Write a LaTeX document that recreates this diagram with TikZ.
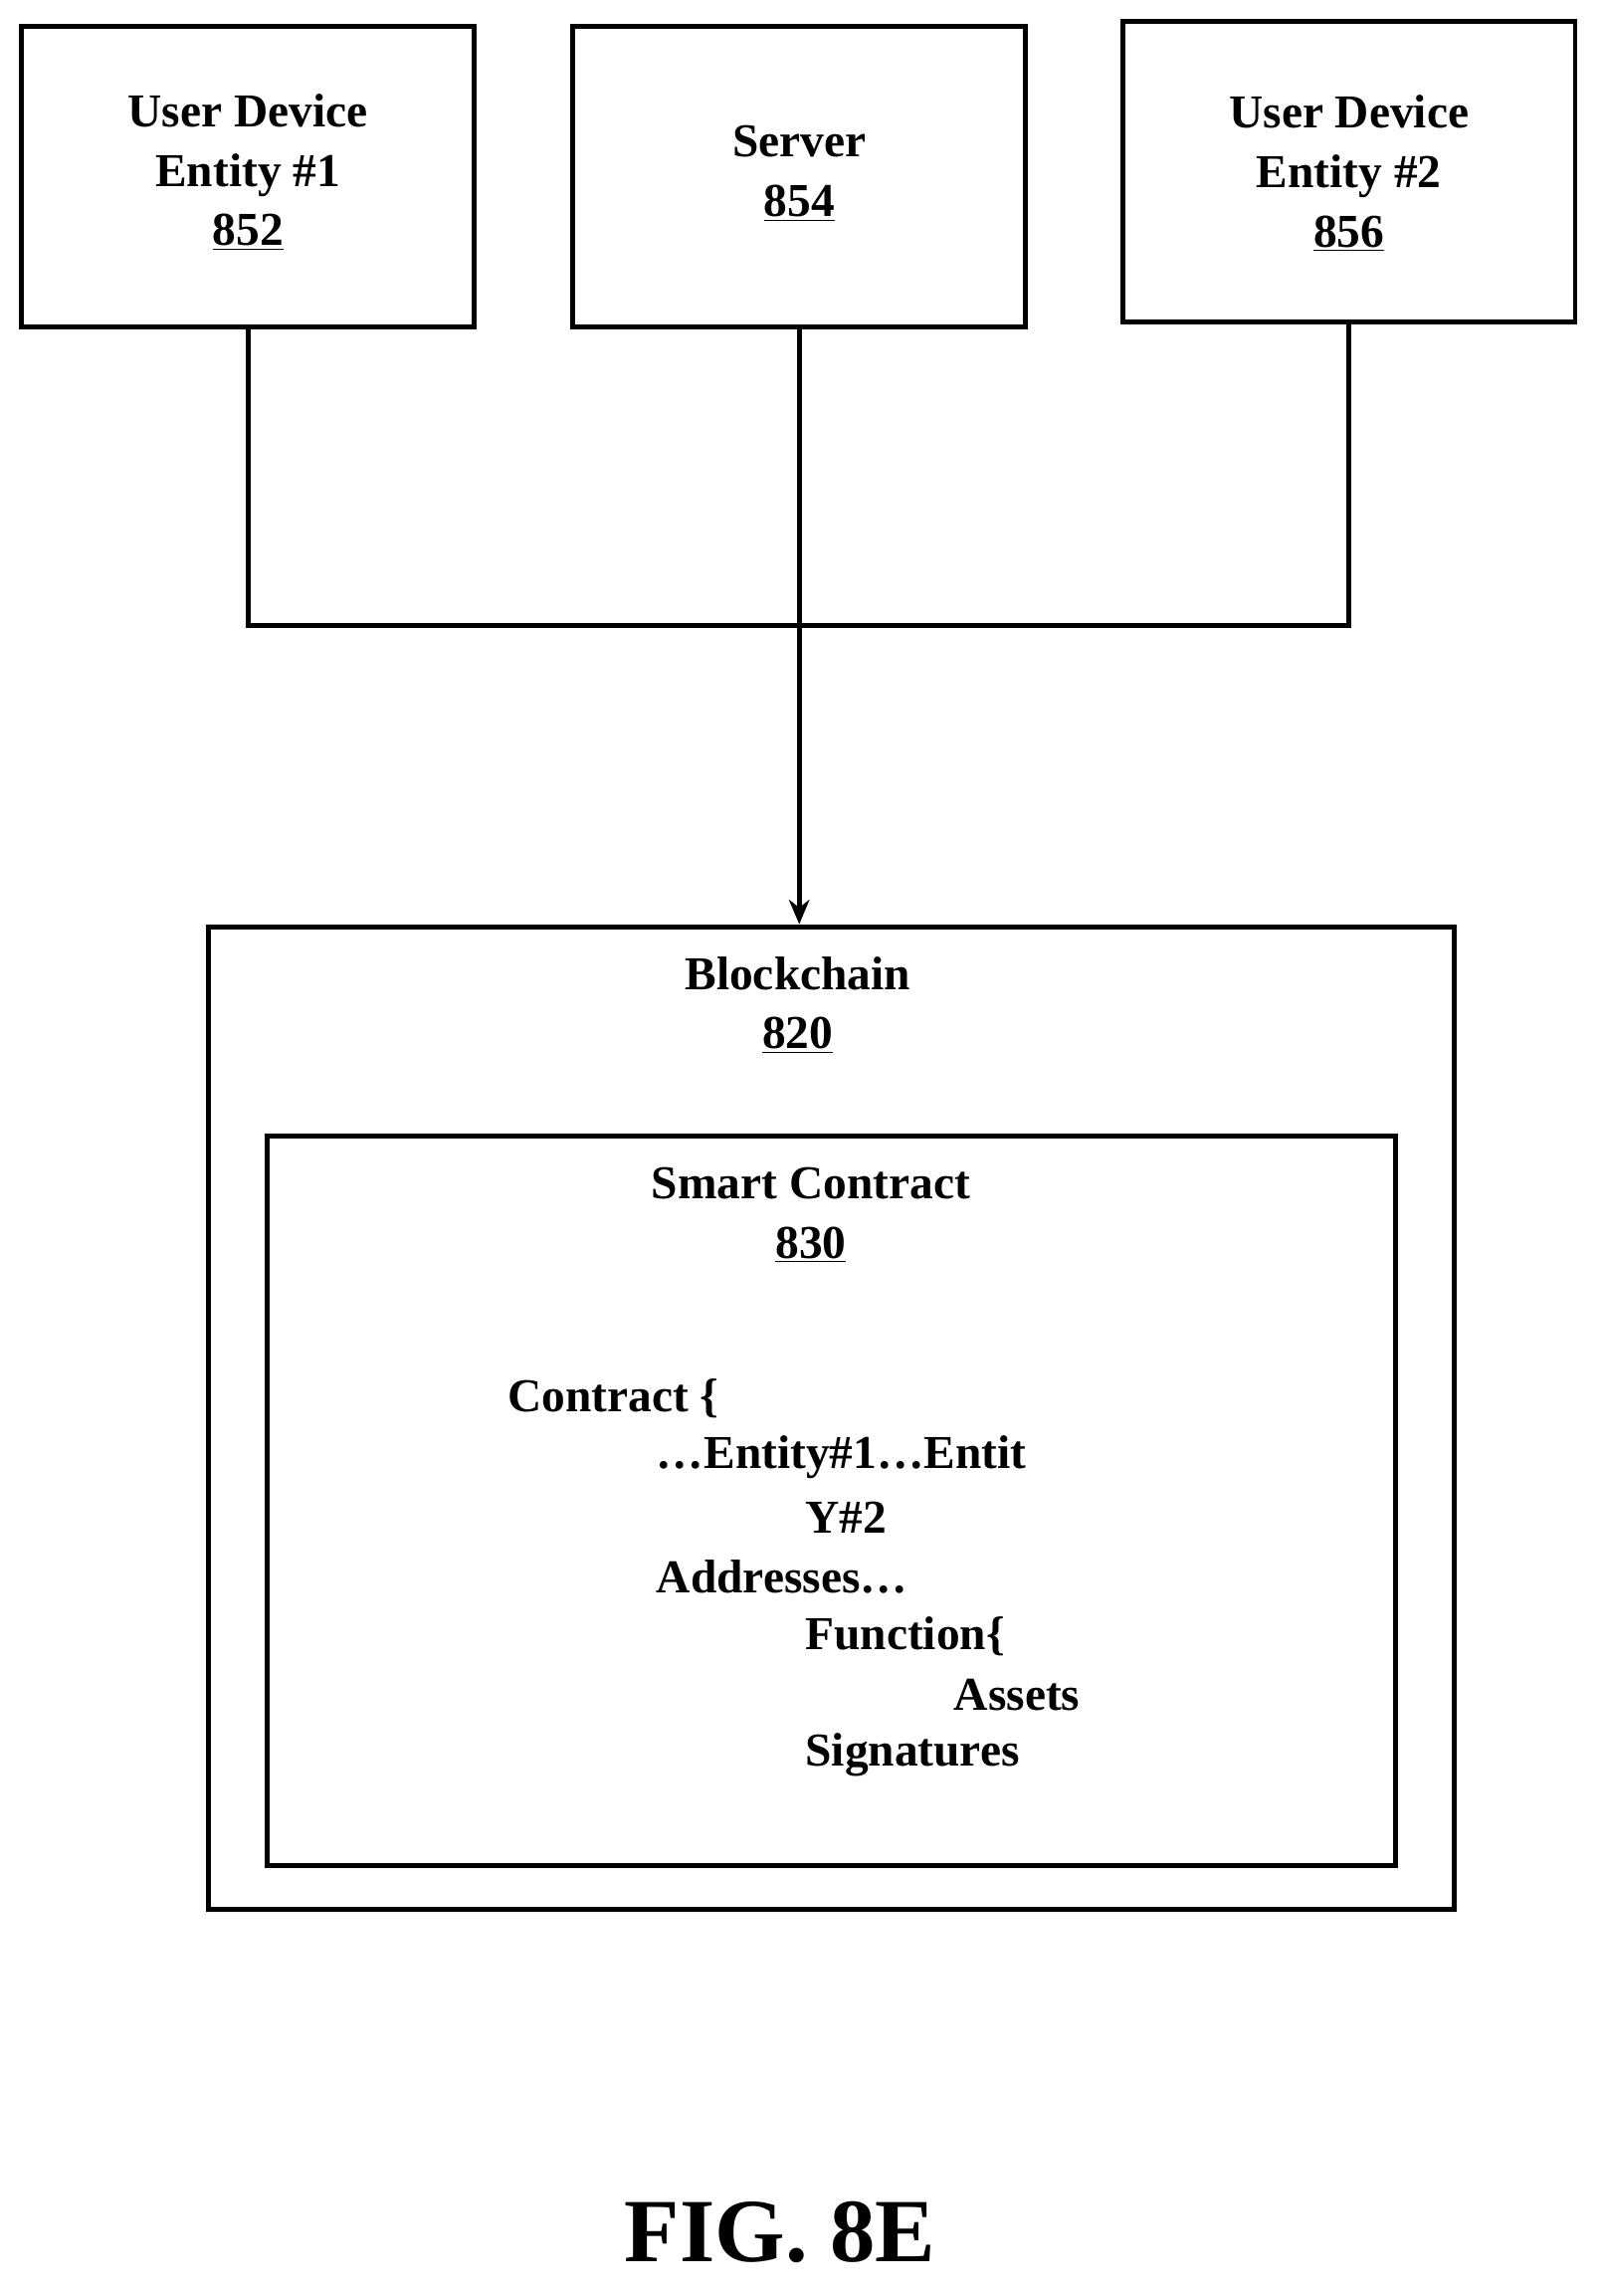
\documentclass[tikz,border=0pt]{standalone}
\usepackage{fontspec}
\setmainfont{Liberation Serif}
\usetikzlibrary{positioning, arrows.meta, calc}
\begin{document}
\begin{tikzpicture}
  [x=0.025cm,y=-0.025cm,
   unitbox/.style={draw,line width=2.4pt,rectangle,inner sep=0pt,minimum width=7.75cm,minimum height=5.15cm},
   boxtext/.style={font=\fontsize{23}{29}\selectfont\bfseries,align=center},
   codetext/.style={font=\fontsize{23}{29}\selectfont\bfseries,anchor=west,inner sep=0pt},
   wire/.style={line width=2.4pt}]
  \useasboundingbox (0,0) rectangle (1100,1574);
  \node (device1) at (170,121) [unitbox] {};
  \node (server) at (548,121) [unitbox] {};
  \node (device2) at (925,118) [unitbox] {};
  \node (device1label) at (170,118) [boxtext] {User Device\\Entity \#1\\\underline{852}};
  \node (serverlabel) at (548,119) [boxtext] {Server\\\underline{854}};
  \node (device2label) at (925,119) [boxtext] {User Device\\Entity \#2\\\underline{856}};
  \node (chain) at (570,972) [draw,line width=2.4pt,inner sep=0pt,minimum width=21.35cm,minimum height=16.83cm] {};
  \node (contract) at (570,1029) [draw,line width=2.4pt,inner sep=0pt,minimum width=19.35cm,minimum height=12.5cm] {};
  \node (chainlabel) at (547,689) [boxtext] {Blockchain\\\underline{820}};
  \node (contractlabel) at (556,833) [boxtext] {Smart Contract\\\underline{830}};
  \coordinate (bus) at (548,429);
  \draw [wire] (device1.south) |- (bus) -| (device2.south);
  \draw [wire,-{Stealth[length=12pt,width=10pt]}] (server.south) -- (chain.north -| server.south);
  \node (line1) at (348,959) [codetext] {Contract \{};
  \node (line2) at (450,999) [codetext] {\dots Entity\#1\dots Entit};
  \node (line3) at (552,1040) [codetext] {Y\#2};
  \node (line4) at (450,1081) [codetext] {Addresses\dots};
  \node (line5) at (552,1122) [codetext] {Function\{};
  \node (line6) at (654,1162) [codetext] {Assets};
  \node (line7) at (552,1203) [codetext] {Signatures};
  \node (figlabel) at (535,1530) [font=\fontsize{44}{50}\selectfont\bfseries] {FIG. 8E};
\end{tikzpicture}
\end{document}
